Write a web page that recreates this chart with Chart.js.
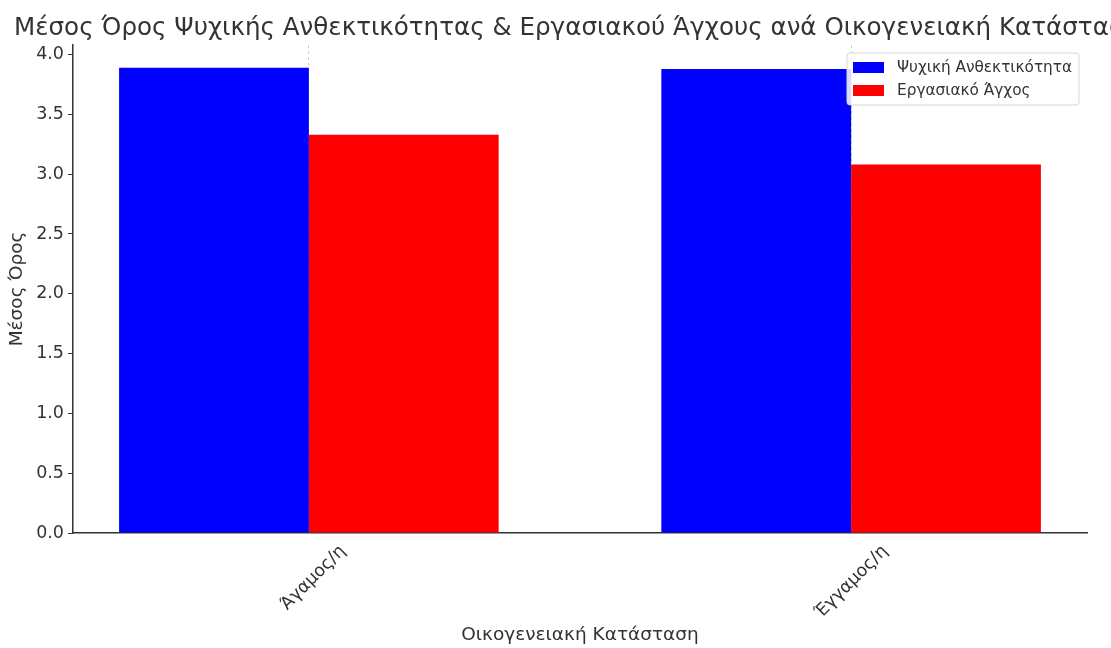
<!DOCTYPE html>
<html>
<head>
<meta charset="utf-8">
<script src="https://cdn.jsdelivr.net/npm/chart.js@4.4.1/dist/chart.umd.min.js"></script>
<style>
    html, body { margin: 0; padding: 0; background: #fff; }
</style>
</head>
<body>
<canvas id="barChart" width="1111" height="648"></canvas>
<script>
// Data
const categories = ['Άγαμος/η', 'Έγγαμος/η'];
const seriesNames = ['Ψυχική Ανθεκτικότητα', 'Εργασιακό Άγχος'];
const resilience = [3.89, 3.88];
const workStress = [3.33, 3.08];
const yMax = 4.08;
const yStep = 0.5;
const chartTitle = 'Μέσος Όρος Ψυχικής Ανθεκτικότητας & Εργασιακού Άγχους ανά Οικογενειακή Κατάσταση';

const textColor = '#333';
const fontFamily = '"DejaVu Sans", sans-serif';

// Title drawn by hand so it gets clipped at the edge like the original
const clippedTitle = {
    id: 'clippedTitle',
    afterDraw(chart) {
        const ctx = chart.ctx;
        ctx.save();
        ctx.font = '24.6px ' + fontFamily;
        ctx.fillStyle = textColor;
        ctx.textBaseline = 'alphabetic';
        ctx.textAlign = 'left';
        ctx.fillText(chartTitle, 14, 35);
        ctx.restore();
    }
};

// Legend box inside the plot, top right
const insideLegend = {
    id: 'insideLegend',
    afterDraw(chart) {
        const ctx = chart.ctx;
        const area = chart.chartArea;
        const w = 232, h = 52;
        const x = area.right - 8 - w;
        const y = area.top + 8;
        ctx.save();
        ctx.beginPath();
        ctx.roundRect(x, y, w, h, 3);
        ctx.fillStyle = 'rgba(255,255,255,0.85)';
        ctx.fill();
        ctx.strokeStyle = '#d6d6d6';
        ctx.lineWidth = 1;
        ctx.stroke();
        ctx.font = '15.3px ' + fontFamily;
        ctx.textBaseline = 'middle';
        chart.data.datasets.forEach((ds, i) => {
            const rowY = y + 9 + i * 23;
            ctx.fillStyle = ds.backgroundColor;
            ctx.fillRect(x + 6, rowY, 31, 11);
            ctx.fillStyle = textColor;
            ctx.fillText(ds.label, x + 50, rowY + 6);
        });
        ctx.restore();
    }
};

function toPoints(values) {
    return values.map((v, i) => ({ x: i, y: v }));
}

const ctx = document.getElementById('barChart').getContext('2d');
new Chart(ctx, {
    type: 'bar',
    data: {
        datasets: [
            {
                label: seriesNames[0],
                data: toPoints(resilience),
                backgroundColor: '#0000ff',
                categoryPercentage: 0.7,
                barPercentage: 1.0
            },
            {
                label: seriesNames[1],
                data: toPoints(workStress),
                backgroundColor: '#ff0000',
                categoryPercentage: 0.7,
                barPercentage: 1.0
            }
        ]
    },
    options: {
        responsive: false,
        animation: false,
        layout: {
            padding: { top: 45, right: 24, bottom: 0, left: 0 }
        },
        plugins: {
            legend: { display: false },
            title: { display: false },
            tooltip: { enabled: false }
        },
        scales: {
            x: {
                type: 'linear',
                offset: false,
                min: -0.435,
                max: 1.435,
                afterBuildTicks: (axis) => {
                    axis.ticks = categories.map((c, i) => ({ value: i }));
                },
                afterFit: (axis) => { axis.height = 115; },
                ticks: {
                    callback: (value) => categories[value],
                    minRotation: 45,
                    maxRotation: 45,
                    labelOffset: 34,
                    padding: 8,
                    color: textColor,
                    font: { family: fontFamily, size: 17.5 }
                },
                grid: {
                    offset: false,
                    drawOnChartArea: true,
                    drawTicks: false,
                    color: '#d0d0d0',
                    lineWidth: 1
                },
                border: { display: true, color: '#333', width: 1.5, dash: [3, 3] },
                title: {
                    display: true,
                    text: 'Οικογενειακή Κατάσταση',
                    color: textColor,
                    font: { family: fontFamily, size: 18.5 },
                    padding: { top: 4, bottom: 2 }
                }
            },
            y: {
                min: 0,
                max: yMax,
                afterFit: (axis) => { axis.width = 73; },
                ticks: {
                    stepSize: yStep,
                    includeBounds: false,
                    callback: (value) => value.toFixed(1),
                    padding: 4,
                    color: textColor,
                    font: { family: fontFamily, size: 17.5 }
                },
                grid: {
                    drawOnChartArea: false,
                    drawTicks: true,
                    tickLength: 5,
                    color: '#333'
                },
                border: { display: true, color: '#333', width: 1.5 },
                title: {
                    display: true,
                    text: 'Μέσος Όρος',
                    color: textColor,
                    font: { family: fontFamily, size: 18.5 },
                    padding: { top: 6, bottom: 0 }
                }
            }
        }
    },
    plugins: [clippedTitle, insideLegend]
});
</script>
</body>
</html>
